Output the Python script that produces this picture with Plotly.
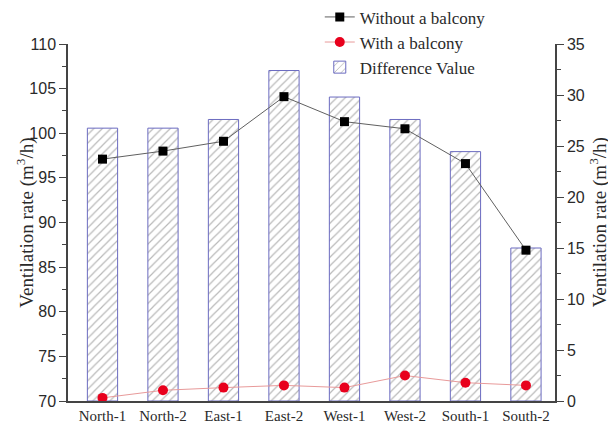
import plotly.graph_objects as go

rooms = ["North-1", "North-2", "East-1", "East-2", "West-1", "West-2", "South-1", "South-2"]
without_balcony = [97.1, 98.0, 99.1, 104.1, 101.3, 100.5, 96.6, 86.9]
with_balcony = [70.35, 71.2, 71.5, 71.75, 71.5, 72.85, 72.05, 71.75]
difference = [26.75, 26.75, 27.6, 32.4, 29.8, 27.6, 24.45, 15.0]

serif = "Liberation Serif"
sans = "Liberation Sans"
ink = "#2a2a2a"

fig = go.Figure()

# bars on the right-hand axis (drawn underneath)
fig.add_trace(go.Bar(
    x=rooms, y=difference, name="Difference Value", yaxis="y", width=0.5,
    marker=dict(color="white", line=dict(color="#6b6bc0", width=1),
                pattern=dict(shape="/", fgcolor="#747474", bgcolor="white", size=6, solidity=0.2)),
    legendrank=3,
))
fig.add_trace(go.Scatter(
    x=rooms, y=without_balcony, name="Without a balcony", yaxis="y2", mode="lines+markers",
    line=dict(color="#606060", width=1), marker=dict(symbol="square", size=9, color="black"),
    legendrank=1,
))
fig.add_trace(go.Scatter(
    x=rooms, y=with_balcony, name="With a balcony", yaxis="y2", mode="lines+markers",
    line=dict(color="#e89a9a", width=1), marker=dict(symbol="circle", size=10, color="#e8001c"),
    legendrank=2,
))

title_txt = "Ventilation rate (m<sup>3</sup>/h)"
axis_common = dict(dtick=5, showline=True, linecolor="#444", linewidth=1.5,
                   ticks="outside", ticklen=7, tickcolor="#444", showgrid=False, zeroline=False,
                   minor=dict(ticks="outside", ticklen=4, dtick=2.5, tickcolor="#444"),
                   tickfont=dict(family=sans, size=16, color=ink))

# page body adds an 8px offset, so margins are shifted to compensate
fig.update_layout(
    width=616, height=429,
    margin=dict(l=60, r=69, t=36, b=36, autoexpand=False),
    paper_bgcolor="white", plot_bgcolor="white",
    showlegend=True,
    legend=dict(x=0.517, y=1.125, xanchor="left", yanchor="top", bgcolor="rgba(0,0,0,0)",
                font=dict(family=serif, size=17, color=ink), tracegroupgap=0),
    xaxis=dict(range=[-0.57, 7.48], showline=True, linecolor="#444", linewidth=1.5,
               ticks="", showgrid=False, zeroline=False,
               tickfont=dict(family=serif, size=15, color=ink)),
    yaxis=dict(side="right", range=[0, 35], **axis_common),
    yaxis2=dict(side="left", overlaying="y", range=[70, 110], **axis_common),
    annotations=[
        dict(text=title_txt, textangle=-90, xref="paper", yref="paper", x=-0.088, y=0.5,
             xanchor="center", yanchor="middle", showarrow=False,
             font=dict(family=serif, size=19, color=ink)),
        dict(text=title_txt, textangle=-90, xref="paper", yref="paper", x=1.09, y=0.5,
             xanchor="center", yanchor="middle", showarrow=False,
             font=dict(family=serif, size=19, color=ink)),
    ],
)

fig.write_html("out.html")
